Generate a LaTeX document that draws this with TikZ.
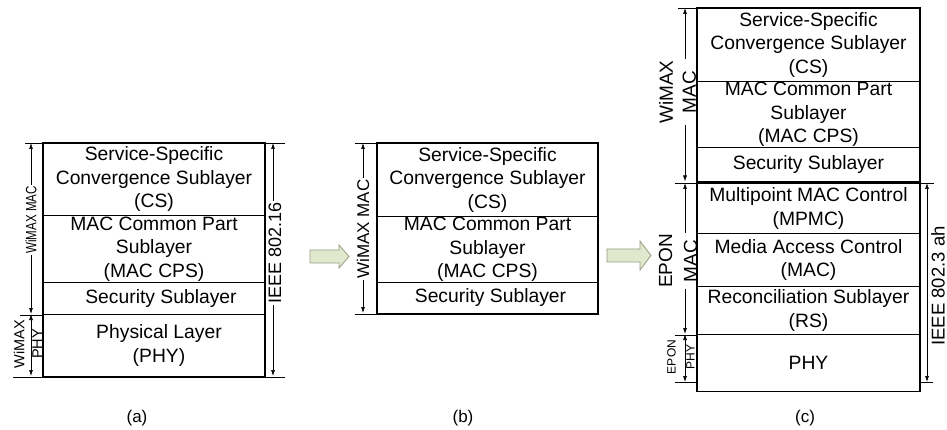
\documentclass[tikz,border=0pt]{standalone}
\usepackage{fontspec}
\setmainfont{Liberation Sans}
\usetikzlibrary{arrows.meta}
\newcommand{\boxfont}{\fontsize{19.3}{23.5}\selectfont}
\tikzset{
  layerbox/.style={draw=black, line width=1pt, anchor=north west, inner sep=0pt, align=center, font=\boxfont},
  outerbox/.style={draw=black, line width=1.8pt},
  dim/.style={line width=0.7pt, {Latex[length=6pt,width=4pt]}-{Latex[length=6pt,width=4pt]}},
  ext/.style={line width=0.6pt},
  dimlabel/.style={rotate=90, fill=white, inner sep=1pt, align=center},
  panellabel/.style={font=\fontsize{17}{20}\selectfont},
  blockarrow/.style={draw={rgb,255:red,150;green,158;blue,128}, line width=0.8pt, fill={rgb,255:red,226;green,232;blue,206}}
}
\begin{document}
\begin{tikzpicture}[x=1pt,y=-1pt]
\useasboundingbox (0,0) rectangle (947,430);

% ---------- panel (a) ----------
\node[layerbox, minimum width=221pt, minimum height=72pt] (aCS) at (43,143) {Service-Specific\\Convergence Sublayer\\(CS)};
\node[layerbox, minimum width=221pt, minimum height=67pt] (aCPS) at (43,215) {MAC Common Part\\Sublayer\\(MAC CPS)};
\node[layerbox, minimum width=221pt, minimum height=32pt] (aSec) at (43,282) {\hspace*{14pt}Security Sublayer};
\node[layerbox, minimum width=221pt, minimum height=62pt] (aPHY) at (43,314) {\hspace*{10pt}Physical Layer\\\hspace*{10pt}(PHY)};

\coordinate (aMt) at (31,143);
\coordinate (aMb) at (31,314);
\coordinate (aPb) at (31,376);
\draw[ext] (aCS.north west) -- ++(-18,0);
\draw[ext] (aSec.south west) -- ++(-23,0);
\draw[ext] (aPHY.south west) -- ++(-30,0);
\draw[dim] (aMt) -- (aMb);
\node[dimlabel, font=\fontsize{15}{17}\selectfont] (aMlab) at (31,220) {\scalebox{0.77}[1]{WiMAX MAC}};
\draw[dim] (aMb) -- (aPb);
\node[rotate=90, inner sep=0pt, align=center, font=\fontsize{14.5}{18}\selectfont] (aPlab) at (28,344) {WiMAX\\PHY};

\coordinate (aIt) at (273,143);
\coordinate (aIb) at (273,376);
\draw[ext] (aCS.north east) -- ++(20,0);
\draw[ext] (aPHY.south east) -- ++(20,0);
\draw[dim] (aIt) -- (aIb);
\node[dimlabel, font=\fontsize{18}{20}\selectfont] (aIlab) at (275,253) {IEEE 802.16};

\draw[outerbox] (aCS.north west) rectangle (aPHY.south east);
\node[panellabel] (la) at (137,418) {(a)};

% ---------- arrow 1 ----------
\draw[blockarrow] (310,250) -- (339,250) -- (339,245) -- (349,256.5) -- (339,268) -- (339,263) -- (310,263) -- cycle;

% ---------- panel (b) ----------
\node[layerbox, minimum width=220pt, minimum height=73pt] (bCS) at (377,143) {Service-Specific\\Convergence Sublayer\\(CS)};
\node[layerbox, minimum width=220pt, minimum height=66pt] (bCPS) at (377,216) {MAC Common Part\\Sublayer\\(MAC CPS)};
\node[layerbox, minimum width=220pt, minimum height=31pt] (bSec) at (377,282) {\hspace*{6pt}Security Sublayer};

\coordinate (bMt) at (363,143);
\coordinate (bMb) at (363,313);
\draw[ext] (bCS.north west) -- ++(-22,0);
\draw[ext] (bSec.south west) -- ++(-22,0);
\draw[dim] (bMt) -- (bMb);
\node[dimlabel, font=\fontsize{17}{20}\selectfont] (bMlab) at (363,229) {WiMAX MAC};

\draw[outerbox] (bCS.north west) rectangle (bSec.south east);
\node[panellabel] (lb) at (463,418) {(b)};

% ---------- panel (c) ----------
\node[layerbox, minimum width=222pt, minimum height=73pt] (cCS) at (697,8) {Service-Specific\\Convergence Sublayer\\(CS)};
\node[layerbox, minimum width=222pt, minimum height=66pt] (cCPS) at (697,81) {MAC Common Part\\Sublayer\\(MAC CPS)};
\node[layerbox, minimum width=222pt, minimum height=34.5pt] (cSec) at (697,147) {Security Sublayer};
\node[layerbox, minimum width=222pt, minimum height=50pt] (cMPMC) at (697,183) {Multipoint MAC Control\\(MPMC)};
\node[layerbox, minimum width=222pt, minimum height=53pt] (cMAC) at (697,233) {Media Access Control\\(MAC)};
\node[layerbox, minimum width=222pt, minimum height=48pt] (cRS) at (697,286) {Reconciliation Sublayer\\(RS)};
\node[layerbox, minimum width=222pt, minimum height=56.5pt] (cPHY) at (697,334) {PHY};

\coordinate (cWt) at (685,8);
\coordinate (cWb) at (685,181.5);
\coordinate (cEt) at (685,183);
\coordinate (cEm) at (685,334);
\coordinate (cEb) at (685,382);
\coordinate (cIt) at (927,183);
\coordinate (cIb) at (927,382);
\coordinate (cExtL) at (675,382);
\coordinate (cExtR) at (933,382);

\draw[ext] (cCS.north west) -- ++(-19,0);
\draw[ext] (cMPMC.north west) -- ++(-22,0);
\draw[ext] (cRS.south west) -- ++(-22,0);
\draw[ext] (cExtL) -- (cEb -| cPHY.west);
\draw[dim] (cWt) -- (cWb);
\draw[dim] (cEt) -- (cEm);
\draw[dim] (cEm) -- (cEb);
\node[dimlabel, font=\fontsize{19}{23}\selectfont] (cWlab) at (677.5,92) {WiMAX\\MAC};
\node[dimlabel, font=\fontsize{19}{25}\selectfont] (cElab) at (678,261) {EPON\\MAC};
\node[rotate=90, inner sep=0pt, align=center, font=\fontsize{12}{19}\selectfont] (cPlab) at (681,357) {EPON\\PHY};

\draw[ext] (cMPMC.north east) -- ++(14,0);
\draw[ext] (cExtR) -- (cIb -| cPHY.east);
\draw[dim] (cIt) -- (cIb);
\node[rotate=90, inner sep=0pt, font=\fontsize{18.5}{21}\selectfont] (cIlab) at (938,286) {IEEE 802.3 ah};

\draw[outerbox] (cCS.north west) rectangle (cSec.south east);
\draw[outerbox] (cMPMC.north west) rectangle (cPHY.south east);
\node[panellabel] (lc) at (805,418) {(c)};

% ---------- arrow 2 ----------
\draw[blockarrow] (607,249) -- (640,249) -- (640,241) -- (651,255.5) -- (640,270) -- (640,262) -- (607,262) -- cycle;

\end{tikzpicture}
\end{document}
